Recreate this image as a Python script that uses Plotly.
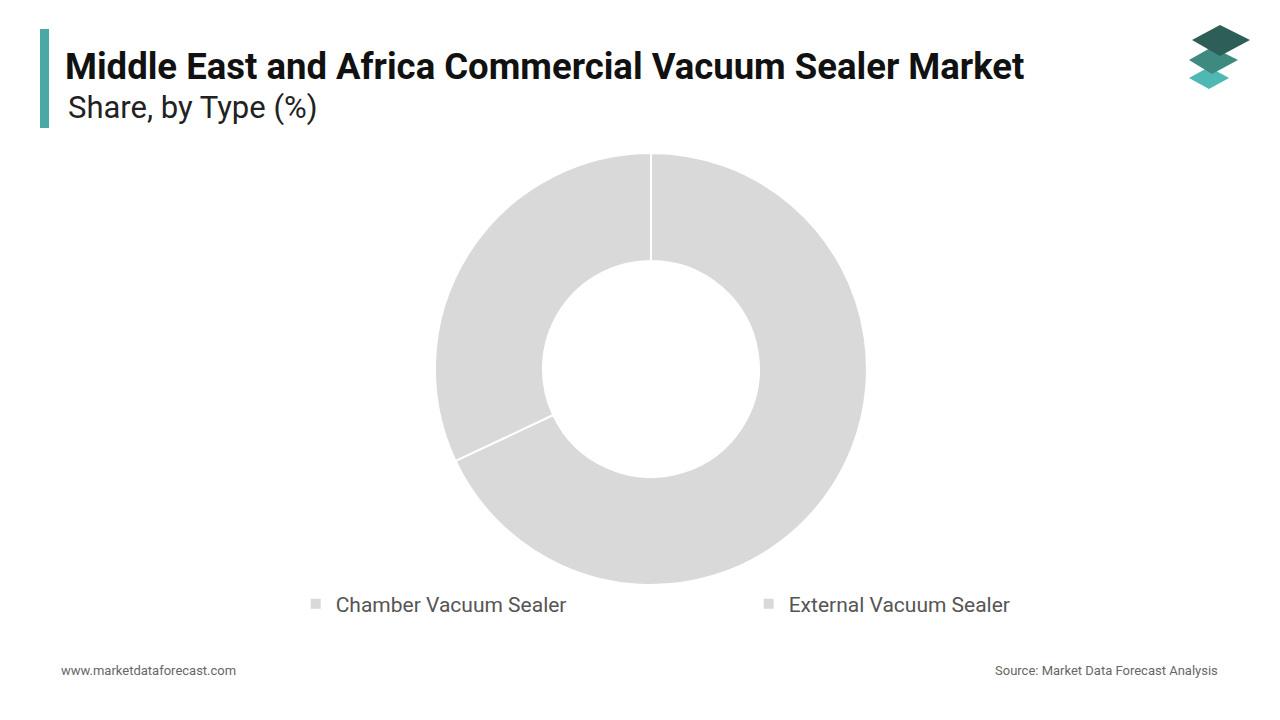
import plotly.graph_objects as go

labels = ["Chamber Vacuum Sealer", "External Vacuum Sealer"]
values = [68, 32]
colors = ["#d9d9d9", "#d9d9d9"]

fig = go.Figure(go.Pie(
    labels=labels, values=values, hole=0.5, sort=False, direction="clockwise",
    rotation=0, marker=dict(colors=colors, line=dict(color="white", width=2)),
    textinfo="none", hoverinfo="label+percent",
    domain=dict(x=[0.3398, 0.6773], y=[0.1875, 0.7875]),
))

fig.update_layout(
    width=1280, height=720, margin=dict(l=0, r=0, t=0, b=0, autoexpand=False),
    paper_bgcolor="white", plot_bgcolor="white",
    font=dict(family="Roboto", color="#555555"),
    showlegend=True,
    legend=dict(orientation="h", x=0.231, xanchor="left", y=0.161, yanchor="middle",
                font=dict(size=21, color="#555555"),
                entrywidth=408, entrywidthmode="pixels"),
    shapes=[
        dict(type="rect", xref="paper", yref="paper", x0=40/1280, x1=49/1280,
             y0=1-128/720, y1=1-29/720, fillcolor="#4aa9a5", line_width=0),
        dict(type="path", xref="paper", yref="paper",
             path="M %f %f L %f %f L %f %f L %f %f Z" % (1189/1280, 1-78/720, 1209/1280, 1-67/720, 1229/1280, 1-78/720, 1209/1280, 1-89/720),
             fillcolor="#4fb8b2", line_width=0),
        dict(type="path", xref="paper", yref="paper",
             path="M %f %f L %f %f L %f %f L %f %f Z" % (1189/1280, 1-60/720, 1212/1280, 1-47/720, 1238/1280, 1-60/720, 1212/1280, 1-74/720),
             fillcolor="#3f8a80", line_width=0),
        dict(type="path", xref="paper", yref="paper",
             path="M %f %f L %f %f L %f %f L %f %f Z" % (1192/1280, 1-40/720, 1220/1280, 1-25/720, 1250/1280, 1-40/720, 1220/1280, 1-56/720),
             fillcolor="#2e5e58", line_width=0),
    ],
    annotations=[
        dict(text="<b>Middle East and Africa Commercial Vacuum Sealer Market</b>", x=63/1280, y=1-66/720,
             xref="paper", yref="paper", xanchor="left", yanchor="middle", showarrow=False,
             font=dict(size=36.5, color="#111111", family="Roboto")),
        dict(text="Share, by Type (%)", x=66/1280, y=1-107/720, xref="paper", yref="paper",
             xanchor="left", yanchor="middle", showarrow=False,
             font=dict(size=31, color="#222222", family="Roboto")),
        dict(text="www.marketdataforecast.com", x=59/1280, y=1-670/720, xref="paper", yref="paper",
             xanchor="left", yanchor="middle", showarrow=False, font=dict(size=13, color="#666666")),
        dict(text="Source: Market Data Forecast Analysis", x=1220/1280, y=1-670/720, xref="paper", yref="paper",
             xanchor="right", yanchor="middle", showarrow=False, font=dict(size=13, color="#666666")),
    ],
)

fig.write_html("out.html", config={"displayModeBar": False},
               post_script="document.body.style.margin='0';document.body.style.overflow='hidden';")
